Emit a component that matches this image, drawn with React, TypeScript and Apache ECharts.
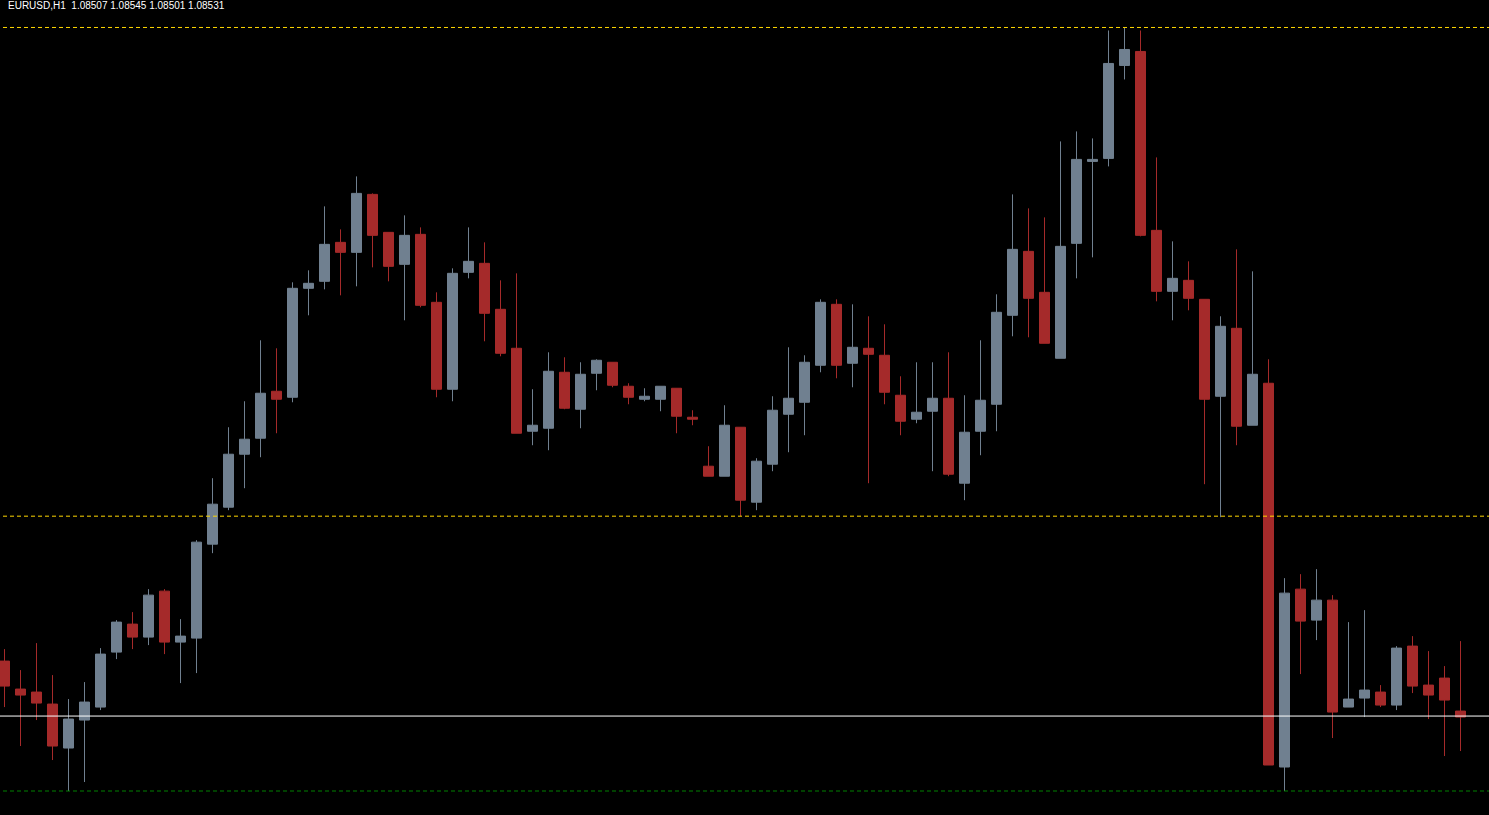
import React, { useEffect, useRef } from "react";
import * as echarts from "echarts";

// Price values in chart points (higher = up). Each candle: [open, close, low, high]
const opens = [154,126,123,111,67,95,108,163,191,178,224,173,177,271,308,361,377,424,418,527,534,573,563,621,583,551,581,513,426,543,552,506,467,384,387,443,406,442,453,429,416,416,427,398,349,339,388,313,351,401,413,450,511,452,467,460,420,396,404,417,332,384,411,500,564,523,457,572,654,657,750,764,585,524,535,516,419,487,390,432,48,226,195,215,108,117,123,110,169,130,137,104];
const closes = [129,120,112,69,96,113,161,193,178,220,173,179,273,311,361,376,422,416,527,532,571,563,622,580,549,580,510,426,542,554,502,462,382,390,444,407,441,455,430,418,419,429,399,396,339,390,315,354,405,417,453,513,450,468,461,423,394,403,417,341,383,415,503,566,517,472,569,656,656,752,766,580,524,537,517,416,489,389,441,50,222,194,215,103,116,125,110,167,129,120,115,98];
const lows = [108,69,95,55,24,33,105,156,166,170,161,132,142,262,305,327,358,382,413,500,526,520,529,548,534,495,508,418,414,537,474,459,382,370,365,406,387,425,428,411,414,404,382,390,339,339,299,305,344,363,380,443,437,428,332,411,380,392,344,339,315,360,384,479,478,472,457,537,558,649,736,579,514,495,505,331,298,370,390,50,24,141,175,77,108,98,108,105,122,96,59,64];
const highs = [166,145,172,140,116,133,167,195,203,226,226,196,275,337,388,414,475,467,533,545,609,586,639,622,583,600,588,523,547,588,573,535,542,426,463,458,453,456,453,432,427,429,427,405,369,410,388,357,419,468,460,516,516,511,499,491,439,453,453,463,420,475,521,621,607,598,674,684,677,785,788,785,658,574,554,516,499,566,544,456,237,241,246,220,193,205,130,169,179,164,149,174];

// Reference levels
const highLevel = 788;
const midLevel = 299;
const bidLevel = 99;
const lowLevel = 24;

const categories = opens.map((_, i) => `Bar ${i + 1}`);
const headerText = "EURUSD,H1  1.08507 1.08545 1.08501 1.08531";

function levelSeries(value: number, color: string, type: any) {
  return {
    type: "line",
    xAxisIndex: 1,
    yAxisIndex: 1,
    data: [
      [0, value],
      [1, value],
    ],
    showSymbol: false,
    symbol: "none",
    silent: true,
    lineStyle: { color, type, width: 1 },
  };
}

export default function App() {
  const ref = useRef<HTMLDivElement>(null);
  useEffect(() => {
    if (!ref.current) return;
    const chart = echarts.init(ref.current, undefined, { renderer: "svg" });
    const data = opens.map((o, i) => [o, closes[i], lows[i], highs[i]]);
    chart.setOption({
      animation: false,
      backgroundColor: "#000000",
      grid: [
        { left: 0.5, width: 1472, top: 0.5, height: 815 },
        { left: 0, width: 1493, top: 0.5, height: 815 },
      ],
      xAxis: [
        { type: "category", data: categories, boundaryGap: true, show: false, gridIndex: 0 },
        { type: "value", min: 0, max: 1, show: false, gridIndex: 1 },
      ],
      yAxis: [
        { type: "value", min: 0, max: 815, show: false, splitLine: { show: false }, gridIndex: 0 },
        { type: "value", min: 0, max: 815, show: false, splitLine: { show: false }, gridIndex: 1 },
      ],
      graphic: [
        {
          type: "text",
          left: 12,
          top: 0,
          style: {
            text: headerText,
            fill: "#ffffff",
            fontSize: 10,
            fontFamily: "Liberation Sans",
          },
        },
      ],
      series: [
        levelSeries(highLevel, "#ffd700", [4, 3]),
        levelSeries(midLevel, "#ffd700", [4, 3]),
        levelSeries(bidLevel, "#ffffff", "solid"),
        levelSeries(lowLevel, "#008000", [4, 3]),
        {
          type: "candlestick",
          xAxisIndex: 0,
          yAxisIndex: 0,
          data,
          barWidth: 10,
          clip: false,
          itemStyle: {
            color: "#708090",
            color0: "#a52a2a",
            borderColor: "#708090",
            borderColor0: "#a52a2a",
            borderWidth: 1,
          },
        },
      ],
    });
    return () => chart.dispose();
  }, []);
  return (
    <div
      ref={ref}
      style={{ position: "fixed", left: -4, top: 0, width: 1493, height: 815, background: "#000" }}
    />
  );
}
